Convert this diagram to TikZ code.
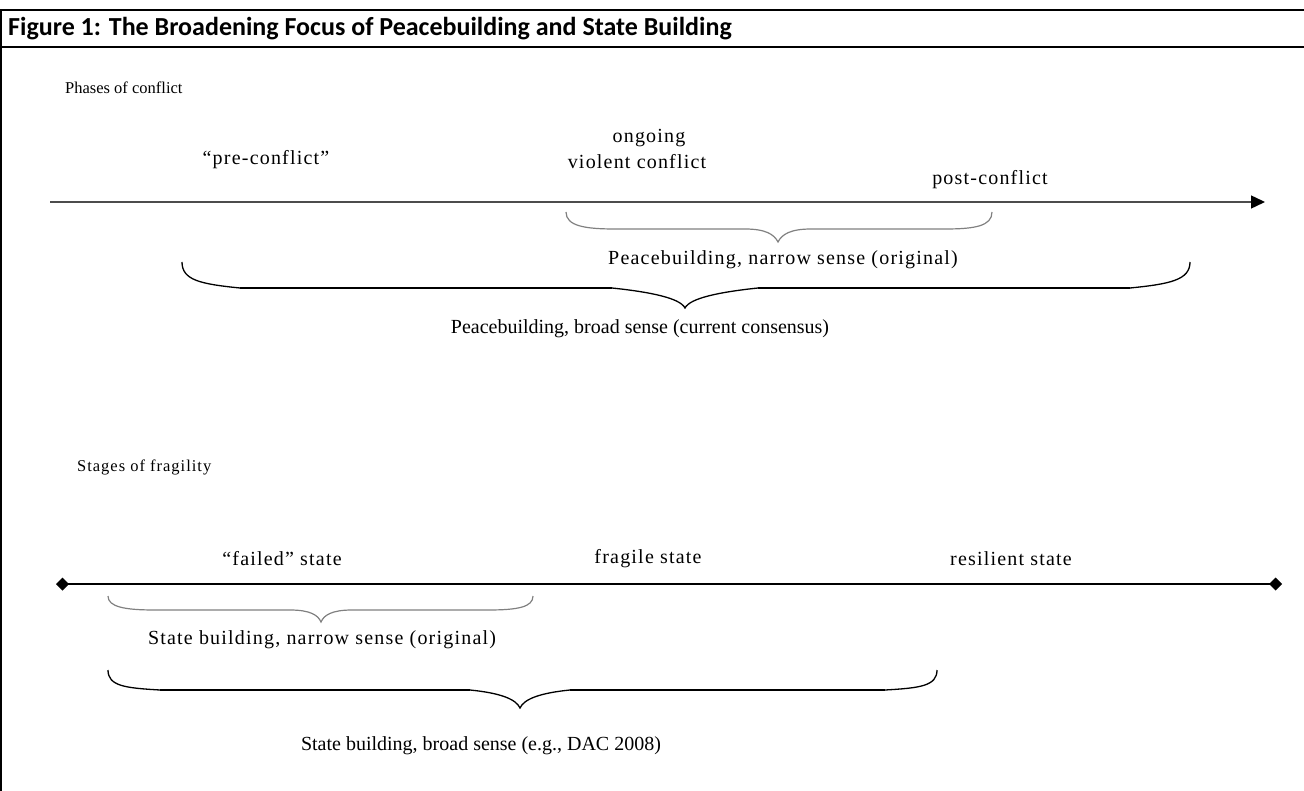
\documentclass[tikz,border=0pt]{standalone}
\usepackage{fontspec}
\setmainfont{Liberation Serif}
\newfontfamily\labfont[LetterSpace=6]{Liberation Serif}
\newfontfamily\plainfont{Liberation Serif}
\newfontfamily\titlefont{Carlito}
\usetikzlibrary{arrows.meta}
\definecolor{bracegray}{gray}{0.5}
\definecolor{axisgray}{gray}{0.3}
\begin{document}
\begin{tikzpicture}[x=1pt,y=-1pt,
  lab/.style={font=\labfont\fontsize{20}{24}\selectfont, inner sep=0pt},
  broadlab/.style={font=\plainfont\fontsize{20}{24}\selectfont, inner sep=0pt},
  head/.style={font=\labfont\fontsize{16.5}{19}\selectfont, inner sep=0pt, anchor=west},
  ttl/.style={font=\titlefont\bfseries\fontsize{26}{30}\selectfont, inner sep=0pt, anchor=west},
  thinbrace/.style={draw=bracegray, line width=1.2pt},
  boldbrace/.style={draw=black, line width=1.3pt},
  boldflat/.style={draw=black, line width=2.4pt},
  frame/.style={draw=black, line width=2.2pt}]
\useasboundingbox (0,0) rectangle (1304,791);
% frame
\draw[frame] (0,10) -- (1304,10);
\draw[frame] (0,47) -- (1304,47);
\draw[draw=black, line width=2pt] (1,10) -- (1,791);
\node[ttl] (title) at (8,29) {Figure 1: The Broadening Focus of Peacebuilding and State Building};

% ---------- Phases of conflict ----------
\node[head, font=\plainfont\fontsize{16.5}{19}\selectfont] (phases) at (65,88) {Phases of conflict};
\node[lab] (ongoing) at (649,138) {ongoing};
\node[lab] (violent) at (637,162) {violent conflict};
\node[lab] (pre) at (266,160) {“pre-conflict”};
\node[lab] (post) at (990,180) {post-conflict};
\coordinate (axA) at (50,202);
\coordinate (axB) at (1265,202);
\draw[draw=axisgray, line width=1.4pt, -{Triangle[length=14pt,width=13pt,color=black]}] (axA) -- (axB);

% narrow peacebuilding brace
\draw[thinbrace] (566,212) .. controls (566,226) and (585,229) .. (615,229)
  -- (745,229) .. controls (765,229) and (774,234) .. (778,242)
  .. controls (782,234) and (791,229) .. (811,229)
  -- (945,229) .. controls (975,229) and (992,226) .. (992,212);
\node[lab] (narrowpb) at (783,260) {Peacebuilding, narrow sense (original)};

% broad peacebuilding brace
\draw[boldbrace] (182,262) .. controls (182,280) and (200,284) .. (240,288)
  -- (612,288) .. controls (650,292) and (680,298) .. (685,308)
  .. controls (690,298) and (720,292) .. (758,288)
  -- (1130,288) .. controls (1170,284) and (1190,280) .. (1190,262);
\draw[boldflat] (240,288) -- (612,288);
\draw[boldflat] (758,288) -- (1130,288);
\node[broadlab] (broadpb) at (640,329) {Peacebuilding, broad sense (current consensus)};

% ---------- Stages of fragility ----------
\node[head] (stages) at (77,467) {Stages of fragility};
\node[lab] (failed) at (282,559) {“failed” state};
\node[lab] (fragile) at (648,559) {fragile state};
\node[lab] (resilient) at (1011,559) {resilient state};
\coordinate (fxA) at (56,584);
\coordinate (fxB) at (1282,584);
\draw[draw=black, line width=1.4pt, {Diamond[length=13pt,width=13pt]}-{Diamond[length=13pt,width=13pt]}] (fxA) -- (fxB);

% narrow state building brace
\draw[thinbrace] (108,596) .. controls (108,607) and (125,610) .. (155,610)
  -- (290,610) .. controls (310,610) and (318,615) .. (321,622)
  .. controls (324,615) and (332,610) .. (352,610)
  -- (488,610) .. controls (518,610) and (533,607) .. (533,596);
\node[lab] (narrowsb) at (322,640) {State building, narrow sense (original)};

% broad state building brace
\draw[boldbrace] (108,670) .. controls (108,686) and (125,688) .. (160,690)
  -- (470,690) .. controls (500,693) and (516,699) .. (520,708)
  .. controls (524,699) and (540,693) .. (570,690)
  -- (885,690) .. controls (920,688) and (937,686) .. (937,670);
\draw[boldflat] (160,690) -- (470,690);
\draw[boldflat] (570,690) -- (885,690);
\node[broadlab] (broadsb) at (481,746) {State building, broad sense (e.g., DAC 2008)};
\end{tikzpicture}
\end{document}
